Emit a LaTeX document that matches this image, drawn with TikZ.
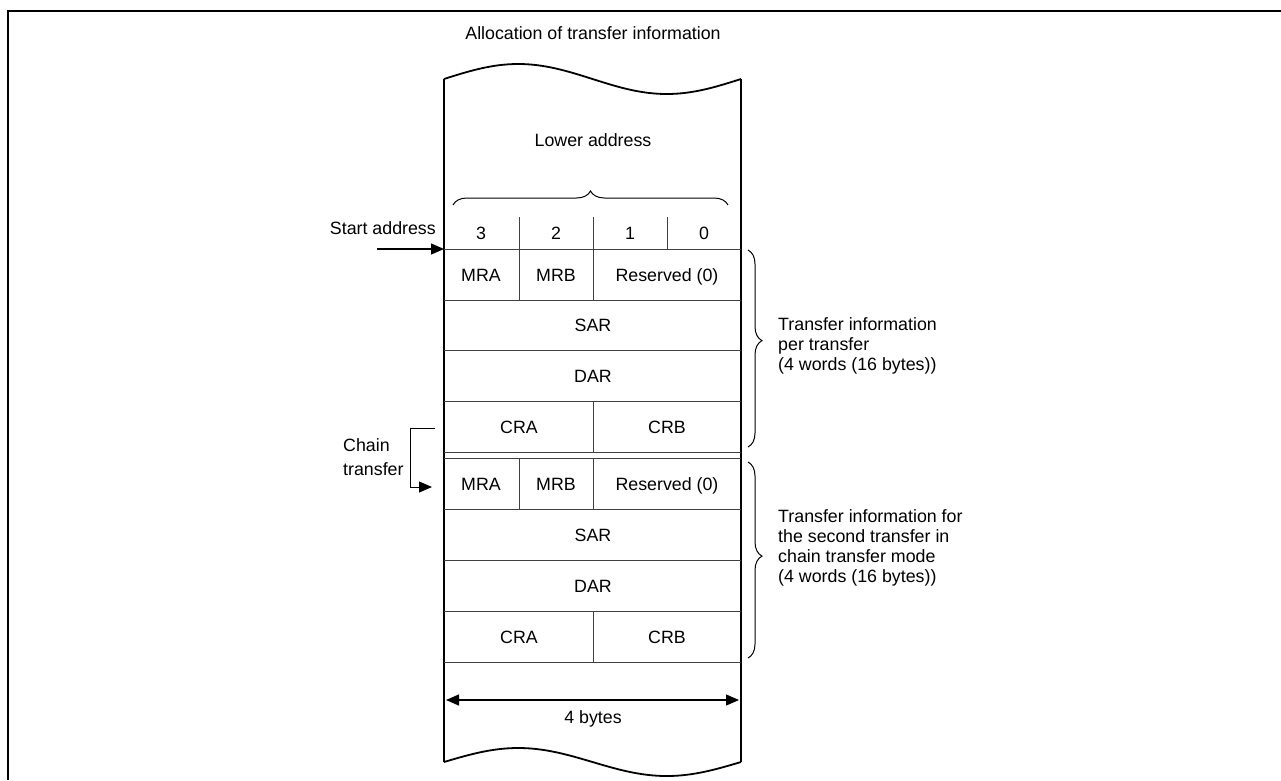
\documentclass[tikz,border=0pt]{standalone}
\usepackage{fontspec}
\setmainfont{Liberation Sans}
\usetikzlibrary{arrows.meta,decorations.pathreplacing}
\begin{document}
\begin{tikzpicture}[x=1pt,y=-1pt,
  txt/.style={inner sep=0pt,font=\fontsize{17.8}{20}\selectfont},
  one/.style={txt,text height=12.8pt,text depth=0pt},
  col/.style={line width=1.8pt},
  cell/.style={line width=0.9pt,draw=black!75},
  tip/.style={-{Triangle[length=13pt,width=11pt]}},
  arr/.style={line width=1.2pt,tip},
  brc/.style={line width=1pt,decorate}]
\useasboundingbox (0,0) rectangle (1281,780);
% outer frame
\draw[line width=2.8pt] (8,780) -- (8,11) -- (1281,11);
% column with wavy ends
\draw[col] plot[domain=444:741,samples=90] (\x,{79-15*sin(1.212121*(\x-444))});
\draw[col] plot[domain=444:741,samples=90] (\x,{762-14*sin(1.212121*(\x-444))});
\draw[col] (444,79) -- (444,762);
\draw[col] (741,79) -- (741,762);
% cell lines
\foreach \yy in {249,300,350,401,452,458,509,560,611,662}
  \draw[cell] (444,\yy) -- (741,\yy);
\draw[cell] (519,217) -- (519,300);
\draw[cell] (593,217) -- (593,300);
\draw[cell] (667,217) -- (667,249);
\draw[cell] (593,401) -- (593,452);
\draw[cell] (519,458) -- (519,509);
\draw[cell] (593,458) -- (593,509);
\draw[cell] (593,611) -- (593,662);
% title and header
\node[txt] (title) at (593,33) {Allocation of transfer information};
\node[txt] (lower) at (593,140) {Lower address};
\draw[brc,decoration={brace,amplitude=14pt}] (453,205) -- (728,205);
\node[one,anchor=base] (b3) at (481,239) {3};
\node[one,anchor=base] (b2) at (556,239) {2};
\node[one,anchor=base] (b1) at (630,239) {1};
\node[one,anchor=base] (b0) at (704,239) {0};
% first block
\node[one,anchor=base] (mra1) at (481,281) {MRA};
\node[one,anchor=base] (mrb1) at (556,281) {MRB};
\node[one,anchor=base] (res1) at (667,281) {Reserved (0)};
\node[one,anchor=base] (sar1) at (593,331) {SAR};
\node[one,anchor=base] (dar1) at (593,382) {DAR};
\node[one,anchor=base] (cra1) at (519,433) {CRA};
\node[one,anchor=base] (crb1) at (667,433) {CRB};
% second block
\node[one,anchor=base] (mra2) at (481,490) {MRA};
\node[one,anchor=base] (mrb2) at (556,490) {MRB};
\node[one,anchor=base] (res2) at (667,490) {Reserved (0)};
\node[one,anchor=base] (sar2) at (593,541) {SAR};
\node[one,anchor=base] (dar2) at (593,592) {DAR};
\node[one,anchor=base] (cra2) at (519,643) {CRA};
\node[one,anchor=base] (crb2) at (667,643) {CRB};
% width arrow
\coordinate (wl) at (446,700);
\coordinate (wr) at (739,700);
\draw[line width=1.2pt,{Triangle[length=13pt,width=11pt]}-{Triangle[length=13pt,width=11pt]}] (wl) -- (wr);
\node[one,anchor=base] (bytes) at (593,723) {4 bytes};
% start address
\node[txt,anchor=east] (start) at (436,228) {Start address};
\coordinate (sa0) at (377,249);
\coordinate (sa1) at (444,249);
\draw[arr] (sa0) -- (sa1);
% chain transfer
\node[txt,align=left,anchor=west] (chain) at (343,457) {Chain\\[4pt]transfer};
\coordinate (ch0) at (435,428);
\coordinate (ch1) at (410,428);
\coordinate (ch2) at (410,487);
\coordinate (ch3) at (432,487);
\draw[arr,line width=1pt] (ch0) -- (ch1) -- (ch2) -- (ch3);
% right braces
\draw[brc,decoration={brace,amplitude=14pt,aspect=0.46}] (748,250) -- (748,447);
\draw[brc,decoration={brace,amplitude=14pt,aspect=0.48}] (748,462) -- (748,658);
\node[txt,align=left,anchor=west] (info1) at (778,346) {Transfer information\\per transfer\\(4 words (16 bytes))};
\node[txt,align=left,anchor=west] (info2) at (778,548) {Transfer information for\\the second transfer in\\chain transfer mode\\(4 words (16 bytes))};
\end{tikzpicture}
\end{document}
